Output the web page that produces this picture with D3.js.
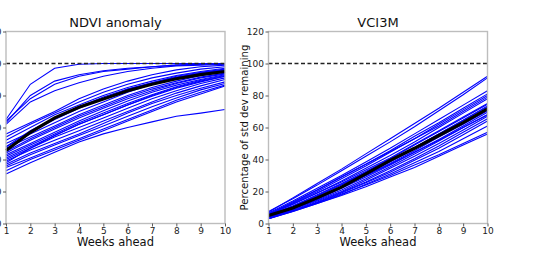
<!DOCTYPE html>
<html>
<head>
<meta charset="utf-8">
<script src="https://cdn.jsdelivr.net/npm/d3@7"></script>
<style>
  body { margin: 0; background: #fff; }
  svg { display: block; font-family: "DejaVu Sans", sans-serif; }
</style>
</head>
<body>
<svg width="550" height="256"></svg>
<script>
// weeks on x axis
var weeks = [1, 2, 3, 4, 5, 6, 7, 8, 9, 10];
var yTicks = [0, 20, 40, 60, 80, 100, 120];

// NDVI anomaly: one row per region (weeks 1..10)
var ndviLines = [
  [65, 87, 97, 99.5, 100, 100, 100, 100, 100, 100],
  [63, 80, 89, 93, 95.5, 97, 98, 99, 99.5, 100],
  [64, 78, 87, 92, 95, 96.5, 98, 99, 99.5, 99.8],
  [62, 76, 83, 88, 92, 95, 97, 98.5, 99, 99.5],
  [56, 63, 70, 78, 84, 89, 93, 96, 98, 99],
  [54, 62, 69, 76, 82, 87, 91, 94, 96.5, 98],
  [52, 60, 68, 74, 80, 85, 89, 92.5, 95, 97],
  [50, 57, 65, 72, 78, 84, 88, 92, 94.5, 96.5],
  [48, 56, 63, 70, 76, 82, 87, 91, 94, 96],
  [47, 54, 61, 68, 74, 80, 85, 89, 92.5, 95],
  [45, 53, 60, 67, 73, 79, 84, 88, 91.5, 94],
  [44, 52, 59, 66, 72, 78, 83, 87.5, 91, 93.5],
  [43, 50, 57, 64, 70.5, 76.5, 82, 86.5, 90, 93],
  [42, 49, 56, 63, 69, 75, 80.5, 85.5, 89.5, 92.5],
  [41, 48, 55, 62, 68, 74, 79.5, 84.5, 88.5, 92],
  [40, 47, 54, 60, 66, 72, 78, 83, 87.5, 91],
  [39, 46, 52, 58, 64, 70, 76, 81.5, 86, 90],
  [37, 44, 50, 56, 62.5, 69, 75, 80, 84.5, 88.5],
  [36, 43, 49, 55, 61, 67, 73, 78.5, 83.5, 87.5],
  [35, 41, 47, 53, 59, 65, 71, 77, 82, 86.5],
  [33, 40, 46, 52, 58, 64, 70, 76, 81, 86],
  [31, 38, 44.5, 51, 56, 60, 63.5, 67, 69, 71.2],
  [48, 58, 66, 73, 79, 84, 88, 91.5, 94, 96],
  [38, 47, 55, 62, 68, 74, 80, 85, 89, 92]
];
var ndviMean = [45.6, 57, 66, 72.6, 77.8, 83, 87, 90.5, 93, 95];

// VCI3M
var vciLines = [
  [7, 16, 25, 34, 43.5, 53, 62.5, 72, 82, 92],
  [7.5, 15.5, 24, 33, 42, 51, 60.5, 70.5, 80.5, 91],
  [6.5, 14, 22, 30, 38.5, 47, 56, 65, 74, 83],
  [6, 13, 21, 29, 37, 45.5, 54.5, 63, 72, 81],
  [6, 12.5, 20, 28, 36, 44.5, 53, 62, 71, 80],
  [5.5, 12, 19, 26.5, 34.5, 42.5, 51, 60, 69, 78],
  [5, 11, 18, 25, 32.5, 40.5, 49, 57.5, 66, 74.5],
  [5, 10.5, 17, 24, 31.5, 39.5, 47.5, 56, 64.5, 73],
  [4.5, 10, 16, 23, 30.5, 38.5, 46.5, 55, 63.5, 72],
  [4.5, 9.5, 15.5, 22.5, 30, 37.5, 45.5, 54, 62, 70.5],
  [4, 9, 15, 22, 29, 36.5, 44.5, 52.5, 61, 69.5],
  [4, 9, 14.5, 21, 28, 35.5, 43.5, 51.5, 60, 68],
  [3.5, 8.5, 14, 20, 27, 34.5, 42, 50, 58.5, 67],
  [3.5, 8, 13.5, 19.5, 26, 33, 40.5, 48.5, 57, 65.5],
  [3, 8, 13, 19, 25.5, 32, 39.5, 47, 55.5, 64],
  [3, 7.5, 12.5, 18, 24.5, 31, 38, 45, 53, 61],
  [3.5, 8, 13, 18.5, 24, 30, 36.5, 43, 50, 57],
  [3, 7.5, 12.5, 17.5, 23, 29, 35, 42, 49, 56],
  [6, 13.5, 21, 29, 37, 45, 53, 61, 70, 79],
  [5.5, 12, 19, 26, 33.5, 41, 49.5, 58, 66.5, 75],
  [4, 9.5, 16, 23, 30, 37, 44.5, 52, 60, 68],
  [5, 11, 17.5, 24.5, 32, 39.5, 47.5, 56, 64.5, 73.5]
];
var vciMean = [5, 9.7, 16, 22.7, 31, 39.5, 47, 55, 63, 71.7];

var svg = d3.select("svg");

function drawPanel(left, right, title, lines, mean, ylabel) {
  var x = d3.scaleLinear().domain([1, 10]).range([left, right]);
  var y = d3.scaleLinear().domain([0, 120]).range([223.5, 31.5]);
  var g = svg.append("g");

  var line = d3.line().x((d, i) => x(weeks[i])).y(d => y(d));

  g.selectAll("path.run")
    .data(lines)
    .enter().append("path")
    .attr("class", "run")
    .attr("d", line)
    .attr("fill", "none")
    .attr("stroke", "#0000ff")
    .attr("stroke-width", 1.1);

  g.append("path")
    .attr("d", line(mean))
    .attr("fill", "none")
    .attr("stroke", "#000")
    .attr("stroke-width", 3.2);

  g.append("line")
    .attr("x1", x(1)).attr("x2", x(10))
    .attr("y1", y(100)).attr("y2", y(100))
    .attr("stroke", "#222")
    .attr("stroke-width", 1.3)
    .attr("stroke-dasharray", "4,2.5");

  // frame
  g.append("rect")
    .attr("x", left).attr("y", y(120))
    .attr("width", right - left).attr("height", y(0) - y(120))
    .attr("fill", "none")
    .attr("stroke", "#bdbdbd")
    .attr("stroke-width", 1.4);

  var xAxis = g.append("g")
    .attr("transform", "translate(0," + y(0) + ")")
    .call(d3.axisBottom(x).tickValues(weeks).tickSize(3).tickPadding(1));
  var yAxis = g.append("g")
    .attr("transform", "translate(" + left + ",0)")
    .call(d3.axisLeft(y).tickValues(yTicks).tickSize(3).tickPadding(1.5));

  [xAxis, yAxis].forEach(a => {
    a.select(".domain").remove();
    a.selectAll(".tick line").attr("stroke", "#333").attr("stroke-width", 0.8);
    a.selectAll("text").attr("fill", "#222").style("font-size", "9px")
      .style("font-family", "DejaVu Sans");
  });

  g.append("text")
    .attr("x", (left + right) / 2).attr("y", 27)
    .attr("text-anchor", "middle")
    .style("font-size", "13px").attr("fill", "#111")
    .text(title);

  g.append("text")
    .attr("x", (left + right) / 2).attr("y", 245.5)
    .attr("text-anchor", "middle")
    .style("font-size", "11.5px").attr("fill", "#111")
    .text("Weeks ahead");

  if (ylabel) {
    g.append("text")
      .attr("transform", "translate(" + (left - 20.5) + "," + y(60) + ") rotate(-90)")
      .attr("text-anchor", "middle")
      .style("font-size", "10.2px").attr("fill", "#111")
      .text(ylabel);
  }
}

drawPanel(6, 225, "NDVI anomaly", ndviLines, ndviMean, null);
drawPanel(268.5, 487.5, "VCI3M", vciLines, vciMean, "Percentage of std dev remaining");
</script>
</body>
</html>
